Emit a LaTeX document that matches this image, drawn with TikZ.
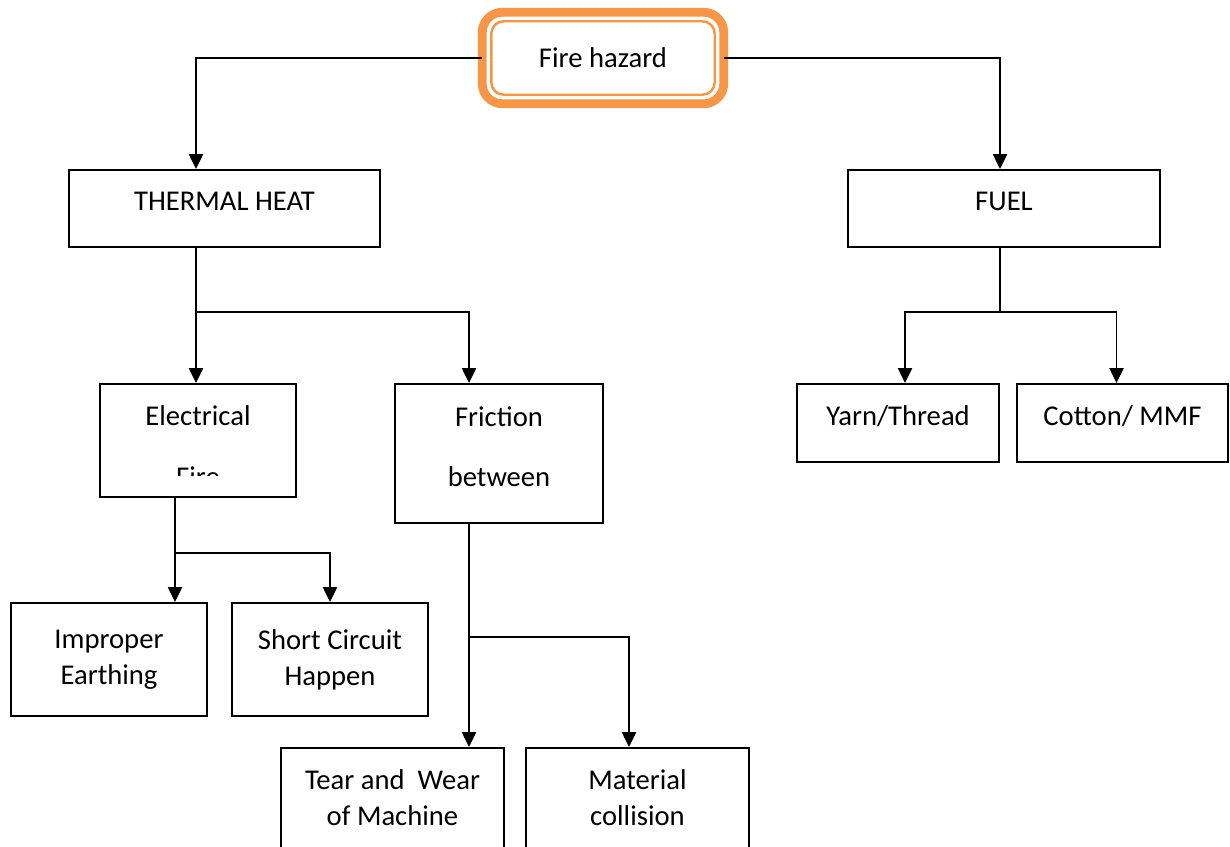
\documentclass[tikz,border=0pt]{standalone}
\usepackage{fontspec}
\setmainfont{Carlito}
\usepackage{tikz}
\usetikzlibrary{arrows.meta}
\definecolor{hazard}{HTML}{F79646}
\tikzset{>={Triangle[length=8.5pt,width=8pt]}}
\tikzset{%
    box/.style={draw,line width=1.1pt,align=center},
    onebox/.style={box,text height=11pt,text depth=8.5pt},
    firebox/.style={draw=hazard,line width=5pt,rounded corners=0.4cm,outer sep=0pt,
        minimum width=4.83cm,minimum height=1.83cm},
    link/.style={line width=1.1pt}
}

\begin{document}
\begin{tikzpicture}[x=0.02cm,y=-0.02cm,font=\fontsize{16.3pt}{20.5pt}\selectfont]
\useasboundingbox (0,0) rectangle (1230,846);
\clip (0,0) rectangle (1230,846);
% top
\node[firebox] (fire) at (603,58) {Fire hazard};
\draw[hazard,line width=1.4pt,rounded corners=0.25cm]
    ([shift={(0.18cm,0.18cm)}]fire.south west) rectangle ([shift={(-0.18cm,-0.18cm)}]fire.north east);
% second row
\node[onebox,minimum width=6.22cm,minimum height=1.54cm] (thermal) at (224.5,208.5) {THERMAL HEAT};
\node[onebox,minimum width=6.24cm,minimum height=1.54cm] (fuel) at (1004,208.5) {FUEL};
% third row
\node[box,minimum width=3.92cm,minimum height=2.26cm,text height=11pt,text depth=28.3pt]
    (elec) at (198,440.5) {Electrical};
\begin{scope}
\clip (elec.north west) rectangle ([yshift=0.44cm]elec.south east);
\node (elecfire) at ([yshift=-0.73cm]elec.center) {Fire};
\end{scope}
\node[box,minimum width=4.16cm,minimum height=2.78cm,text depth=8pt] (fric) at (499,453.5) {Friction\\[14pt]between};
\node[onebox,minimum width=4.04cm,minimum height=1.56cm] (yarn) at (898,423) {Yarn/Thread};
\node[onebox,minimum width=4.22cm,minimum height=1.56cm] (cotton) at (1122.5,423) {Cotton/ MMF};
% fourth row
\node[box,minimum width=3.92cm,minimum height=2.26cm] (imp) at (109,659.5) {Improper\\Earthing};
\node[box,minimum width=3.92cm,minimum height=2.26cm] (short) at (330,659.5) {Short Circuit\\Happen};
\node[box,minimum width=4.46cm,minimum height=2cm] (tear) at (392.5,798) {Tear and\ \ Wear\\of Machine};
\node[box,minimum width=4.46cm,minimum height=2cm] (mat) at (637.5,798) {Material\\collision};

% junctions
\coordinate (tj) at (196,312);
\coordinate (frline) at (469,312);
\coordinate (uj) at (1000,312);
\coordinate (ej) at (175,553);
\coordinate (fj) at (469,637);

\draw[link,->] (fire.west) -| (thermal.north -| tj);
\draw[link,->] (fire.east) -| (fuel.north -| uj);
\draw[link,->] (thermal.south -| tj) -- (tj |- elec.north);
\draw[link,->] (tj) -| (frline |- fric.north);
\draw[link] (fuel.south -| uj) -- (uj);
\draw[link,->] (uj) -| ([xshift=0.14cm]yarn.north);
\draw[link,->] (uj) -| ([xshift=-0.12cm]cotton.north);
\draw[link,->] (ej |- elec.south) -- (ej |- imp.north);
\draw[link,->] (ej) -| (short.north);
\draw[link,->] (frline |- fric.south) -- (frline |- tear.north);
\draw[link,->] (fj) -| ([xshift=-0.17cm]mat.north);
\end{tikzpicture}
\end{document}
